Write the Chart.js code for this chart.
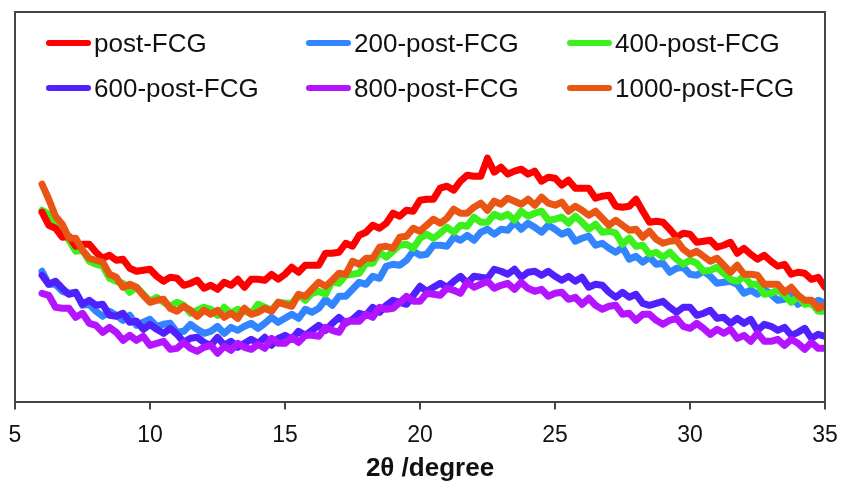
<!DOCTYPE html>
<html>
<head>
<meta charset="utf-8">
<script src="https://cdn.jsdelivr.net/npm/chart.js@4/dist/chart.umd.min.js"></script>
<style>
  html, body { margin: 0; padding: 0; background: #fff; }
  #wrap { position: relative; width: 845px; height: 493px; }
  #legend { position: absolute; left: 0; top: 0; width: 845px; height: 120px; pointer-events: none; }
  .li { position: absolute; display: flex; align-items: center; font-family: Arial, "Liberation Sans", sans-serif; font-size: 26px; color: #111; white-space: nowrap; }
  .li .sw { width: 45px; height: 6px; border-radius: 3px; margin-right: 3px; }
  #xtitle { position: absolute; left: 330px; width: 200px; top: 451px; text-align: center; font-family: Arial, "Liberation Sans", sans-serif; font-weight: bold; font-size: 26px; line-height: 32px; color: #111; }
</style>
</head>
<body>
<div id="wrap">
  <canvas id="c" width="845" height="493"></canvas>
  <div id="legend"></div>
  <div id="xtitle"></div>
</div>
<script>
// 2-theta sampling (degrees)
const twoTheta = [
  6.00,6.25,6.50,6.75, 7.00,7.25,7.50,7.75, 8.00,8.25,8.50,8.75, 9.00,9.25,9.50,9.75,
  10.00,10.25,10.50,10.75, 11.00,11.25,11.50,11.75, 12.00,12.25,12.50,12.75, 13.00,13.25,13.50,13.75,
  14.00,14.25,14.50,14.75, 15.00,15.25,15.50,15.75, 16.00,16.25,16.50,16.75, 17.00,17.25,17.50,17.75,
  18.00,18.25,18.50,18.75, 19.00,19.25,19.50,19.75, 20.00,20.25,20.50,20.75, 21.00,21.25,21.50,21.75,
  22.00,22.25,22.50,22.75, 23.00,23.25,23.50,23.75, 24.00,24.25,24.50,24.75, 25.00,25.25,25.50,25.75,
  26.00,26.25,26.50,26.75, 27.00,27.25,27.50,27.75, 28.00,28.25,28.50,28.75, 29.00,29.25,29.50,29.75,
  30.00,30.25,30.50,30.75, 31.00,31.25,31.50,31.75, 32.00,32.25,32.50,32.75, 33.00,33.25,33.50,33.75,
  34.00,34.25,34.50,34.75, 35.00
];

// Intensities (a.u.) (one row of 4 per degree, 6..34, then 35)
const postFCG = [
  190,177,174,165, 166,156,158,158, 150,144,147,142, 143,134,131,132,
  133,126,121,125, 124,117,119,122, 114,117,113,120, 117,123,115,123,
  123,122,128,123, 128,135,130,137, 137,137,149,149, 150,159,156,167,
  170,177,174,179, 189,186,192,191, 202,203,203,214, 216,212,221,227,
  226,226,244,230, 235,228,231,233, 228,231,221,225, 224,217,222,214,
  214,214,204,206, 207,196,195,196, 203,191,180,181, 180,173,165,169,
  168,160,161,162, 155,157,160,149, 154,148,143,147, 141,136,138,128,
  130,129,123,125, 115
];
const fcg200 = [
  131,118,118,111, 109,110,97,98, 91,86,91,87, 82,87,77,80,
  83,76,78,79, 70,71,78,73, 69,71,76,69, 75,72,76,79,
  74,79,85,80, 84,88,84,93, 90,94,103,97, 106,106,113,120,
  118,126,124,136, 138,137,142,151, 147,148,157,157, 156,165,162,167,
  162,170,173,168, 173,172,180,173, 179,175,170,177, 173,168,171,161,
  164,166,157,159, 154,150,155,143, 146,140,145,138, 139,130,134,135,
  128,127,131,126, 119,120,121,118, 109,112,108,113, 108,102,103,107,
  98,102,98,102, 99
];
const fcg400 = [
  192,188,175,171, 162,151,152,141, 138,136,124,121, 119,110,115,108,
  101,105,100,96, 100,97,89,92, 95,93,87,95, 89,93,91,89,
  98,95,92,100, 99,99,107,102, 109,111,108,121, 119,127,128,129,
  139,139,150,145, 151,157,158,154, 164,168,164,169, 175,170,177,176,
  185,180,180,188, 185,188,182,191, 186,189,191,182, 183,185,179,186,
  180,173,178,170, 171,169,158,164, 156,157,148,150, 145,150,143,138,
  142,139,131,132, 135,129,123,121, 126,118,118,108, 109,112,107,100,
  106,98,99,91, 91
];
const fcg600 = [
  127,118,121,114, 108,110,98,102, 97,98,87,86, 89,80,81,73,
  78,73,69,74, 68,60,64,65, 60,57,65,57, 61,55,59,63,
  59,65,57,64, 67,63,71,67, 72,77,72,79, 85,79,83,89,
  87,95,90,97, 102,100,98,107, 116,111,115,119, 115,121,126,119,
  126,125,124,133, 131,128,133,125, 130,131,127,131, 126,122,126,121,
  125,115,118,117, 110,105,110,105, 108,99,97,99, 101,95,90,95,
  95,87,89,92, 84,85,79,84, 79,83,72,78, 76,72,75,67,
  70,74,64,68, 66
];
const fcg800 = [
  109,107,95,94, 94,85,89,79, 77,70,75,70, 62,67,62,66,
  57,59,61,53, 54,60,54,51, 55,57,49,56, 52,59,55,53,
  58,54,64,59, 59,65,60,67, 67,66,75,72, 70,81,81,81,
  88,85,95,93, 94,100,106,101, 101,109,108,107, 114,112,109,120,
  115,118,121,114, 117,119,113,120, 114,111,113,106, 109,110,103,105,
  98,104,97,93, 96,97,88,89, 82,88,88,82, 78,82,84,76,
  74,79,74,68, 73,69,73,64, 67,61,69,61, 61,63,57,63,
  59,53,60,54, 54
];
const fcg1000 = [
  218,203,186,178, 164,164,152,144, 142,140,128,125, 115,118,115,107,
  100,102,103,94, 91,96,92,86, 92,88,92,85, 89,84,94,88,
  90,94,91,100, 98,96,108,106, 113,120,116,122, 129,128,141,138,
  144,144,155,156, 154,165,166,174, 171,177,183,179, 184,193,189,189,
  195,199,192,201, 198,204,201,198, 203,197,205,199, 197,200,191,196,
  192,187,191,184, 177,182,177,172, 173,165,171,163, 159,161,162,153,
  148,151,146,141, 144,137,130,137, 128,128,127,118, 118,118,110,115,
  107,102,102,94, 97
];

const seriesNames = ['post-FCG', '200-post-FCG', '400-post-FCG', '600-post-FCG', '800-post-FCG', '1000-post-FCG'];
const seriesData = [postFCG, fcg200, fcg400, fcg600, fcg800, fcg1000];
const seriesColors = ['#ff0000', '#3385ff', '#3cf01e', '#5020ff', '#b414ff', '#eb5514'];
const drawOrder = [2, 5, 3, 4, 1, 0]; // lower = drawn on top
const xTicks = [5, 10, 15, 20, 25, 30, 35];
const xTitle = '2θ /degree';

const datasets = seriesNames.map((name, i) => ({
  label: name,
  data: twoTheta.map((t, k) => ({ x: t, y: seriesData[i][k] })),
  borderColor: seriesColors[i],
  backgroundColor: seriesColors[i],
  borderWidth: 7,
  pointRadius: 0,
  tension: 0,
  borderJoinStyle: 'round',
  borderCapStyle: 'round',
  order: drawOrder[i]
}));

const frame = {
  id: 'frame',
  afterDatasetsDraw(chart) {
    const { ctx, chartArea: a } = chart;
    ctx.save();
    ctx.strokeStyle = '#444';
    ctx.lineWidth = 2;
    ctx.beginPath();
    ctx.moveTo(a.left, a.bottom);
    ctx.lineTo(a.left, a.top);
    ctx.lineTo(a.right, a.top);
    ctx.lineTo(a.right, a.bottom);
    ctx.stroke();
    ctx.restore();
  }
};

const chart = new Chart(document.getElementById('c'), {
  type: 'line',
  data: { datasets },
  options: {
    responsive: false,
    animation: false,
    events: [],
    layout: { padding: { left: 15, right: 20, top: 12, bottom: 32 } },
    plugins: { legend: { display: false }, tooltip: { enabled: false } },
    scales: {
      x: {
        type: 'linear',
        min: 5, max: 35,
        afterBuildTicks(scale) { scale.ticks = xTicks.map(v => ({ value: v })); },
        afterFit(scale) { scale.paddingLeft = 0; scale.paddingRight = 0; },
        ticks: { color: '#111', font: { family: 'Arial', size: 23 }, padding: 12, maxRotation: 0 },
        grid: { display: true, drawOnChartArea: false, drawTicks: true, tickLength: 7, color: '#444', lineWidth: 2 },
        border: { display: true, color: '#444', width: 2 },
        title: { display: false }
      },
      y: { display: false, min: 0, max: 390 }
    }
  },
  plugins: [frame]
});

document.getElementById('xtitle').textContent = xTitle;

// HTML legend built from the chart's datasets
const legendPos = [[46, 43], [306, 43], [567, 43], [46, 88], [306, 88], [567, 88]];
const lg = document.getElementById('legend');
chart.data.datasets.forEach((ds, i) => {
  const el = document.createElement('div');
  el.className = 'li';
  el.style.left = legendPos[i][0] + 'px';
  el.style.top = (legendPos[i][1] - 16) + 'px';
  el.style.height = '32px';
  const sw = document.createElement('span');
  sw.className = 'sw';
  sw.style.background = ds.borderColor;
  const tx = document.createElement('span');
  tx.textContent = ds.label;
  el.appendChild(sw); el.appendChild(tx);
  lg.appendChild(el);
});
</script>
</body>
</html>
